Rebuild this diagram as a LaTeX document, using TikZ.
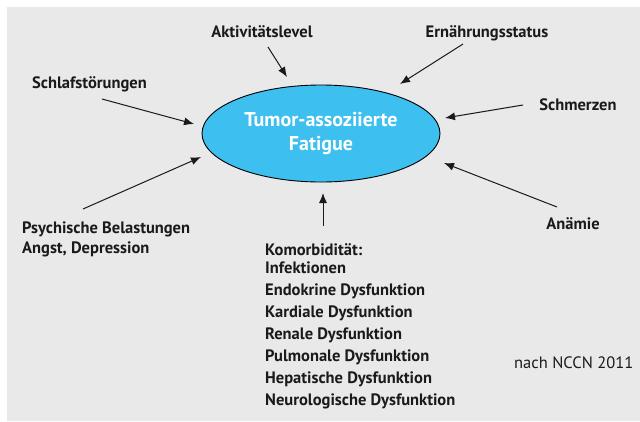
\documentclass[tikz,border=0pt]{standalone}
\usepackage{fontspec}
\setmainfont{PT Sans}
\usetikzlibrary{shapes.geometric,arrows.meta}
\definecolor{hellgrau}{HTML}{E9E9E9}
\definecolor{fatigueblau}{HTML}{3DBFEF}
\definecolor{schrift}{HTML}{1A1A1A}

\begin{document}
\begin{tikzpicture}[x=1pt,y=-1pt]
\tikzset{lbl/.style={font=\fontsize{16.5}{18}\selectfont\bfseries,text=schrift,inner sep=0pt,anchor=base},
  lst/.style={lbl,anchor=base west},
  pfeil/.style={-{Latex[length=10pt,width=8pt]},line width=1pt,draw=schrift}}

\useasboundingbox (0,0) rectangle (640,421);
\fill[hellgrau] (7,7) rectangle (640,421);

% Mitte
\node[ellipse,draw=black,line width=0.9pt,fill=fatigueblau,minimum width=238pt,minimum height=97pt,
  inner sep=0pt,align=center,text=white,font=\fontsize{20}{24}\selectfont\bfseries]
  (fatigue) at (321,133.5) {Tumor-assoziierte\\Fatigue};

% Faktoren
\node[lbl] (aktiv) at (262,37) {Aktivitätslevel};
\node[lbl] (ernaehrung) at (487,37) {Ernährungsstatus};
\node[lbl] (schlaf) at (89.5,88) {Schlafstörungen};
\node[lbl] (schmerz) at (578,110) {Schmerzen};
\node[lst] (psyche) at (22,233) {Psychische Belastungen};
\node[lst] (angst) at (22,253) {Angst, Depression};
\node[lbl] (anaemie) at (573,229) {Anämie};

% Komorbiditaet
\node[lst] (komorb) at (265,255) {Komorbidität:};
\node[lst] (k1) at (265,273) {Infektionen};
\node[lst] (k2) at (265,295) {Endokrine Dysfunktion};
\node[lst] (k3) at (265,317) {Kardiale Dysfunktion};
\node[lst] (k4) at (265,339) {Renale Dysfunktion};
\node[lst] (k5) at (265,361) {Pulmonale Dysfunktion};
\node[lst] (k6) at (265,383) {Hepatische Dysfunktion};
\node[lst] (k7) at (265,405) {Neurologische Dysfunktion};

\node[lst,font=\fontsize{16.5}{18}\selectfont] (quelle) at (514,368) {nach NCCN 2011};

% Pfeile
\coordinate (aktiv-a) at (268,47);   \coordinate (aktiv-b) at (287,77);
\coordinate (ernaehrung-a) at (463,44); \coordinate (ernaehrung-b) at (400,84);
\coordinate (schlaf-a) at (102,99);  \coordinate (schlaf-b) at (194,124);
\coordinate (schmerz-a) at (523,105); \coordinate (schmerz-b) at (445,118);
\coordinate (psyche-a) at (83,209);  \coordinate (psyche-b) at (201,157);
\coordinate (anaemie-a) at (557,207); \coordinate (anaemie-b) at (444,163);
\coordinate (komorb-a) at (323,226); \coordinate (komorb-b) at (323,193);
\draw[pfeil] (aktiv-a) -- (aktiv-b);
\draw[pfeil] (ernaehrung-a) -- (ernaehrung-b);
\draw[pfeil] (schlaf-a) -- (schlaf-b);
\draw[pfeil] (schmerz-a) -- (schmerz-b);
\draw[pfeil] (psyche-a) -- (psyche-b);
\draw[pfeil] (anaemie-a) -- (anaemie-b);
\draw[pfeil] (komorb-a) -- (komorb-b);
\end{tikzpicture}
\end{document}
